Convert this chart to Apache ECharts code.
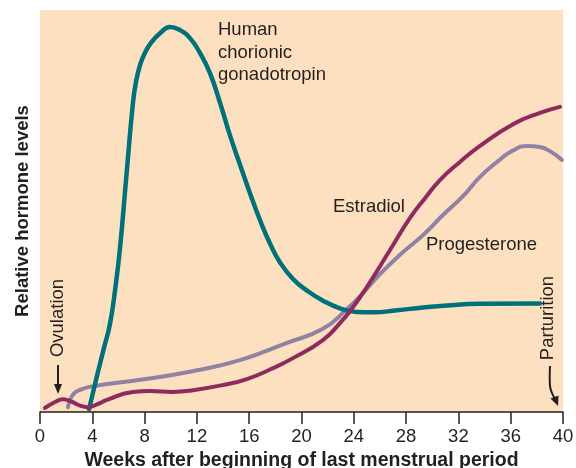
<!DOCTYPE html>
<html>
<head>
<meta charset="utf-8">
<title>Hormone levels during pregnancy</title>
<script src="https://cdn.jsdelivr.net/npm/echarts@6/dist/echarts.min.js"></script>
<style>
  html, body { margin: 0; padding: 0; background: #ffffff; }
  #chart { width: 576px; height: 468px; }
</style>
</head>
<body>
<div id="chart"></div>
<script>
// Week ticks along the horizontal axis
const weekTicks = [0, 4, 8, 12, 16, 20, 24, 28, 32, 36, 40];

// Human chorionic gonadotropin (relative level, 0-100)
const hcgWeeks  = [3.75, 4.36, 4.89, 5.35, 5.74, 6.12, 6.58, 7.11, 7.35, 7.65, 8.0, 8.5, 9.2, 9.94, 10.71, 11.47, 12.24, 13.0, 13.77, 14.53, 15.3, 16.06, 16.83, 17.59, 18.36, 19.35, 20.42, 21.64, 22.94, 24.24, 25.47, 27.3, 29.29, 31.13, 33.65, 38.24];
const hcgLevels = [0.7, 9.0, 15.9, 21.9, 30.3, 40.8, 57.7, 76.9, 82.3, 86.3, 89.2, 91.9, 94.3, 95.8, 95.0, 93.0, 89.3, 84.3, 76.9, 68.8, 61.5, 54.4, 47.7, 41.9, 37.2, 33.1, 30.2, 27.7, 25.8, 24.9, 24.8, 25.3, 26.0, 26.5, 26.9, 27.0];

// Estradiol
const estradiolWeeks  = [0.38, 1.15, 1.76, 2.45, 3.06, 3.67, 4.36, 5.12, 7.11, 8.41, 10.17, 11.47, 13.99, 15.83, 17.82, 19.35, 21.64, 22.94, 23.94, 25.0, 26.77, 28.3, 29.45, 30.59, 32.12, 33.65, 36.18, 38.24, 39.77];
const estradiolLevels = [1.0, 2.5, 3.2, 2.5, 1.6, 1.2, 1.9, 3.0, 5.0, 5.2, 5.0, 5.3, 6.7, 8.2, 10.9, 13.4, 17.9, 22.1, 26.1, 31.1, 40.3, 48.3, 53.2, 57.7, 62.2, 66.2, 71.6, 74.4, 75.9];

// Progesterone
const progesteroneWeeks  = [2.14, 2.45, 3.06, 4.21, 7.65, 11.47, 15.3, 18.89, 21.64, 23.48, 24.7, 26.0, 27.53, 29.29, 30.82, 32.35, 33.65, 34.95, 36.1, 37.25, 38.24, 39.0, 39.92];
const progesteroneLevels = [1.2, 4.0, 5.5, 6.5, 8.0, 10.0, 12.9, 17.2, 20.7, 25.6, 29.6, 34.3, 39.1, 44.0, 49.0, 53.7, 58.5, 62.2, 64.9, 66.2, 65.9, 64.9, 62.7];

const FONT = '"Liberation Sans", Arial, Helvetica, sans-serif';
const INK = '#231f20';

function pairs(xs, ys) {
  return xs.map(function (x, i) { return [x, ys[i]]; });
}

function curve(name, xs, ys, color, width) {
  return {
    name: name,
    type: 'line',
    data: pairs(xs, ys),
    smooth: 0.5,
    symbol: 'none',
    lineStyle: { color: color, width: width, cap: 'round', join: 'round' },
    emphasis: { disabled: true },
    silent: true
  };
}

const chart = echarts.init(document.getElementById('chart'), null, { renderer: 'canvas' });

chart.setOption({
  animation: false,
  backgroundColor: '#ffffff',
  textStyle: { fontFamily: FONT, color: INK },
  grid: {
    left: 40, right: 13, top: 10, bottom: 56,
    containLabel: false,
    outerBoundsMode: 'none',
    show: true, backgroundColor: '#fde0bf', borderWidth: 0
  },
  xAxis: {
    type: 'value',
    min: weekTicks[0],
    max: weekTicks[weekTicks.length - 1],
    interval: 4,
    name: 'Weeks after beginning of last menstrual period',
    nameLocation: 'middle',
    nameGap: 37,
    nameTextStyle: { fontFamily: FONT, fontSize: 19.5, fontWeight: 'bold', color: INK },
    axisLine: { show: true, onZero: false, lineStyle: { color: INK, width: 1.5 } },
    axisTick: { show: true, length: 12, lineStyle: { color: INK, width: 1.5 } },
    axisLabel: { fontFamily: FONT, fontSize: 18.5, color: INK, margin: 15 },
    splitLine: { show: false }
  },
  yAxis: {
    type: 'value',
    min: 0,
    max: 100,
    name: 'Relative hormone levels',
    nameLocation: 'middle',
    nameRotate: 90,
    nameGap: 8,
    nameTextStyle: { fontFamily: FONT, fontSize: 18.5, fontWeight: 'bold', color: INK },
    axisLine: { show: false },
    axisTick: { show: false },
    axisLabel: { show: false },
    splitLine: { show: false }
  },
  series: [
    curve('Progesterone', progesteroneWeeks, progesteroneLevels, '#8f82a3', 4),
    curve('Human chorionic gonadotropin', hcgWeeks, hcgLevels, '#00707a', 4.5),
    curve('Estradiol', estradiolWeeks, estradiolLevels, '#8e2a5e', 4)
  ],
  graphic: [
    {
      type: 'text', left: 218, top: 19, silent: true,
      style: { text: 'Human\nchorionic\ngonadotropin', font: '18.5px ' + FONT, fill: INK, lineHeight: 22.5 }
    },
    {
      type: 'text', x: 333, y: 207, silent: true,
      style: { text: 'Estradiol', font: '18.5px ' + FONT, fill: INK, verticalAlign: 'middle' }
    },
    {
      type: 'text', x: 426, y: 245, silent: true,
      style: { text: 'Progesterone', font: '18.5px ' + FONT, fill: INK, verticalAlign: 'middle' }
    },
    // Ovulation marker
    {
      type: 'text', x: 58, y: 318, rotation: Math.PI / 2, silent: true,
      style: { text: 'Ovulation', font: '18.5px ' + FONT, fill: INK, align: 'center', verticalAlign: 'middle' }
    },
    {
      type: 'line', silent: true,
      shape: { x1: 58, y1: 365, x2: 58, y2: 386 },
      style: { stroke: INK, lineWidth: 2 }
    },
    {
      type: 'polygon', silent: true,
      shape: { points: [[54, 384], [62, 384], [58, 394]] },
      style: { fill: INK }
    },
    // Parturition marker
    {
      type: 'text', x: 548, y: 318, rotation: Math.PI / 2, silent: true,
      style: { text: 'Parturition', font: '18.5px ' + FONT, fill: INK, align: 'center', verticalAlign: 'middle' }
    },
    {
      type: 'polyline', silent: true,
      shape: { points: [[550, 366], [550, 386], [552, 393], [555, 399]], smooth: 0.4 },
      style: { stroke: INK, lineWidth: 2, fill: null }
    },
    {
      type: 'polygon', silent: true,
      shape: { points: [[550.5, 398.5], [558.5, 395.5], [558, 406]] },
      style: { fill: INK }
    }
  ]
});
</script>
</body>
</html>
